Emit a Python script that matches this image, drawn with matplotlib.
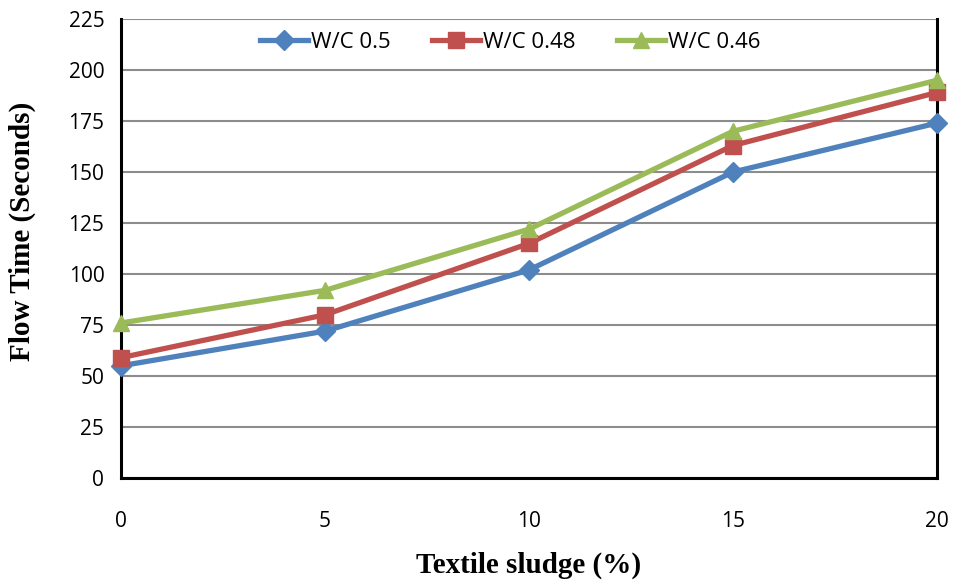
import matplotlib.pyplot as plt

x_vals = [0, 5, 10, 15, 20]
wc_050 = [55, 72, 102, 150, 174]
wc_048 = [59, 80, 115, 163, 189]
wc_046 = [76, 92, 122, 170, 195]
labels = ["W/C 0.5", "W/C 0.48", "W/C 0.46"]

fig = plt.figure(figsize=(9.55, 5.82), dpi=100)
ax = fig.add_axes([0.1267, 0.1787, 0.8545, 0.7886])

ax.plot(x_vals, wc_050, color="#4F81BD", marker="D", markersize=10, lw=3.8, label=labels[0], clip_on=False, zorder=3)
ax.plot(x_vals, wc_048, color="#C0504D", marker="s", markersize=11, lw=3.8, label=labels[1], clip_on=False, zorder=4)
ax.plot(x_vals, wc_046, color="#9BBB59", marker="^", markersize=12, lw=3.8, label=labels[2], clip_on=False, zorder=5)

ax.set_xlim(0, 20)
ax.set_ylim(0, 225)
ax.set_xticks(x_vals)
ax.set_yticks(range(0, 226, 25))
ax.yaxis.grid(True, color="#8c8c8c", lw=1.5)
ax.set_axisbelow(True)
for side in ["left", "right", "bottom"]:
    ax.spines[side].set_color("black")
    ax.spines[side].set_linewidth(2.2)
ax.spines["top"].set_visible(False)
ax.tick_params(length=0, labelsize=15, pad=12)
for t in ax.get_xticklabels() + ax.get_yticklabels():
    t.set_family("Open Sans")
ax.tick_params(axis="x", pad=24)

ax.set_xlabel("Textile sludge (%)", family="Liberation Serif", fontweight="bold", fontsize=21, labelpad=14)
ax.set_ylabel("Flow Time (Seconds)", family="Liberation Serif", fontweight="bold", fontsize=21)
ax.yaxis.set_label_coords(-0.104, 0.538)

leg = ax.legend(loc="upper center", bbox_to_anchor=(0.477, 1.015), ncol=3, frameon=False,
                prop={"family": "Open Sans", "size": 16}, handlelength=2.15, columnspacing=1.85, handletextpad=0.15)

fig.savefig("out.png", dpi=100)
